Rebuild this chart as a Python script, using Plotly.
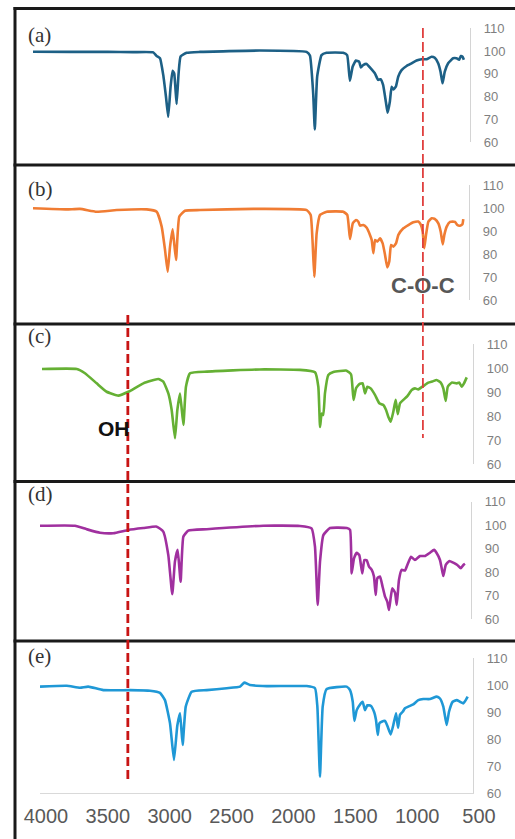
import plotly.graph_objects as go

# ---------------------------------------------------------------- spectra data
# wavenumber (cm-1) / transmittance (%) pairs for each sample
wn_a = [4000, 3700, 3400, 3200, 3037, 3010, 2983, 2957, 2935, 2917, 2898, 2882, 2869,
        2850, 2834, 2818, 2769, 2663, 2183, 1809, 1782, 1756, 1743, 1724, 1689, 1649,
        1516, 1484, 1462, 1440, 1414, 1388, 1374, 1356, 1328, 1302, 1262, 1236, 1216,
        1196, 1174, 1160, 1142, 1128, 1115, 1094, 1075, 1048, 1008, 968, 928, 888, 848,
        808, 782, 755, 736, 720, 702, 675, 635, 608, 587, 573, 560, 549]
t_a = [99.7, 99.6, 99.6, 99.5, 99.4, 97.8, 96.8, 89.5, 79.9, 71.1, 84.3, 91.3, 90.1,
       76.7, 90.1, 97.6, 99.2, 99.6, 100.2, 99.6, 98.0, 81.4, 65.5, 88.7, 98.2, 99.2,
       99.2, 98.2, 86.9, 93.1, 95.8, 95.3, 92.8, 93.8, 94.3, 92.8, 90.2, 87.3, 87.6,
       85.1, 77.7, 72.9, 77.7, 84.3, 83.1, 84.3, 88.7, 91.6, 93.4, 94.6, 95.8, 96.4, 96.4,
       97.5, 97.0, 94.6, 90.9, 85.8, 90.9, 94.6, 96.8, 96.8, 96.2, 97.8, 97.5, 96.2]

wn_b = [4000, 3729, 3623, 3489, 3328, 3087, 3007, 2967, 2940, 2919, 2900, 2879, 2852,
        2826, 2780, 2659, 2231, 1803, 1771, 1755, 1742, 1723, 1696, 1642, 1509, 1477,
        1455, 1433, 1407, 1388, 1375, 1348, 1321, 1295, 1281, 1268, 1254, 1236, 1214,
        1193, 1174, 1156, 1140, 1126, 1107, 1086, 1067, 1027, 987, 947, 907, 888, 872,
        859, 845, 826, 799, 773, 746, 727, 711, 698, 679, 652, 612, 594, 572, 553, 546]
t_b = [99.9, 99.4, 99.6, 98.4, 99.1, 99.4, 98.4, 91.9, 81.7, 72.3, 83.2, 90.7, 77.4,
       96.2, 98.8, 99.1, 99.6, 99.1, 97.0, 84.6, 70.1, 89.0, 97.0, 98.4, 98.4, 97.0,
       86.5, 93.3, 94.8, 94.0, 92.3, 92.6, 91.4, 88.3, 86.1, 80.3, 86.1, 85.4, 86.8,
       84.6, 79.6, 74.2, 76.7, 83.9, 83.2, 84.6, 88.3, 91.2, 92.6, 93.8, 94.1, 92.9, 89.7,
       82.5, 88.3, 94.1, 95.5, 95.2, 93.3, 89.7, 84.2, 88.3, 91.9, 94.0, 94.0, 92.6, 92.3,
       92.9, 95.2]

wn_c = [4000, 3718, 3651, 3556, 3475, 3380, 3299, 3177, 3056, 3015, 2974, 2947, 2920,
        2901, 2879, 2852, 2831, 2798, 2662, 2230, 1905, 1783, 1756, 1742, 1729, 1716,
        1702, 1675, 1634, 1526, 1490, 1470, 1450, 1423, 1396, 1377, 1358, 1331, 1296,
        1261, 1228, 1206, 1188, 1168, 1147, 1128, 1111, 1093, 1066, 1033, 998, 971, 944,
        903, 863, 830, 795, 762, 741, 722, 705, 673, 632, 611, 592, 573, 551]
t_c = [99.6, 99.6, 97.8, 93.6, 90.1, 88.5, 90.1, 93.6, 95.4, 94.3, 89.4, 82.5, 70.7,
       82.5, 89.4, 76.3, 92.2, 97.8, 98.5, 99.4, 99.2, 98.2, 92.2, 75.4, 81.0, 80.4,
       89.5, 97.1, 98.3, 98.9, 97.3, 86.7, 91.5, 93.3, 93.6, 89.4, 92.2, 91.5, 88.8,
       85.3, 84.6, 82.5, 79.7, 77.6, 81.8, 86.7, 80.8, 85.3, 86.7, 88.3, 90.8, 91.5, 91.1,
       92.5, 93.9, 94.4, 95.0, 93.9, 91.5, 86.3, 92.2, 93.9, 93.6, 93.9, 92.2, 93.6, 96.1]

wn_d = [4000, 3716, 3621, 3513, 3405, 3283, 3161, 3052, 2999, 2958, 2926, 2904, 2882,
        2858, 2836, 2796, 2646, 2187, 1889, 1795, 1767, 1745, 1726, 1699, 1645, 1509,
        1482, 1469, 1450, 1428, 1407, 1383, 1366, 1347, 1328, 1306, 1288, 1274, 1261,
        1239, 1217, 1198, 1180, 1166, 1152, 1139, 1117, 1103, 1085, 1063, 1036, 1017, 987,
        955, 914, 873, 833, 800, 778, 752, 738, 725, 705, 676, 644, 611, 583, 562, 549]
t_d = [99.7, 99.7, 98.2, 96.7, 96.5, 97.9, 98.7, 99.3, 97.2, 87.2, 70.6, 84.5, 89.4,
       75.9, 95.0, 97.6, 98.2, 99.7, 99.6, 98.6, 90.8, 66.0, 84.5, 95.7, 98.7, 98.7,
       97.9, 79.4, 85.8, 88.2, 87.2, 79.4, 85.1, 85.0, 82.3, 80.9, 78.1, 70.2, 77.3,
       78.1, 73.5, 69.5, 67.4, 63.8, 69.1, 73.1, 71.2, 66.0, 76.6, 80.9, 80.6, 83.0, 86.5,
       85.1, 86.8, 86.8, 88.2, 89.4, 88.0, 85.1, 81.6, 78.3, 83.0, 84.7, 84.0, 83.0, 81.6,
       83.0, 83.5]

wn_e = [4000, 3784, 3677, 3610, 3488, 3273, 3111, 3030, 2990, 2949, 2917, 2890, 2868,
        2847, 2822, 2774, 2653, 2491, 2383, 2349, 2303, 2168, 1844, 1777, 1758, 1737,
        1715, 1683, 1521, 1494, 1472, 1459, 1440, 1413, 1392, 1373, 1354, 1327, 1300,
        1284, 1270, 1257, 1238, 1211, 1190, 1165, 1144, 1122, 1106, 1090, 1068, 1050,
        1023, 983, 942, 902, 848, 793, 767, 740, 713, 694, 664, 632, 605, 578, 559, 543]
t_e = [99.4, 99.7, 99.0, 99.4, 98.1, 98.1, 97.9, 97.1, 94.4, 85.8, 72.2, 85.0, 89.5,
       77.8, 92.0, 97.5, 98.1, 98.8, 99.4, 100.9, 100.0, 99.6, 99.6, 98.8, 92.0, 66.0,
       92.0, 98.5, 99.4, 98.1, 93.8, 86.7, 90.7, 92.8, 93.8, 90.7, 92.5, 92.3, 90.1,
       87.0, 81.5, 85.8, 86.4, 86.7, 84.6, 81.7, 85.2, 89.5, 84.2, 89.0, 90.1, 91.4,
       92.0, 92.8, 94.4, 94.8, 94.8, 95.7, 95.0, 92.0, 85.2, 90.1, 93.8, 94.4, 93.8,
       93.2, 94.4, 95.7]

panel_labels = ["(a)", "(b)", "(c)", "(d)", "(e)"]
y_ticks = [60, 70, 80, 90, 100, 110]
x_ticks = [4000, 3500, 3000, 2500, 2000, 1500, 1000, 500]
coc_wavenumber = 870      # C-O-C band marker
oh_wavenumber = 3290      # O-H band marker

# ---------------------------------------------------------------- styling / layout
W, H = 515, 839
colors = ["#1d6086", "#f07c33", "#65b034", "#a0309f", "#1f98d6"]
panel_x = [(33, 470), (33, 469), (42, 473), (40, 471), (40, 473)]        # px, left/right
panel_y = [(28.25, 142), (185, 300), (344, 464), (501.5, 619), (658, 793)]  # px, 110 / 60
label_y = [35, 189, 336, 494, 656]
separators = [165, 324, 481.5, 641]


def fx(p):
    return p / W


def fy(p):
    return 1 - p / H


series = [(wn_a, t_a), (wn_b, t_b), (wn_c, t_c), (wn_d, t_d), (wn_e, t_e)]

fig = go.Figure()
layout = {}
for i, (wn, t) in enumerate(series):
    n = i + 1
    sx = "" if n == 1 else str(n)
    fig.add_trace(go.Scatter(
        x=wn, y=t, mode="lines",
        line=dict(color=colors[i], width=2.6, shape="spline", smoothing=0.4),
        xaxis="x" + sx, yaxis="y" + sx, showlegend=False, hoverinfo="skip",
    ))
    x0, x1 = panel_x[i]
    ytop, ybot = panel_y[i]
    xa = dict(domain=[fx(x0), fx(x1)], range=[4000, 500], anchor="y" + sx,
              showgrid=False, zeroline=False, automargin=False)
    if n == 5:
        xa.update(showline=True, linecolor="#d9d9d9", linewidth=1.2, ticks="",
                  tickvals=x_ticks, ticktext=[str(v) for v in x_ticks],
                  tickfont=dict(family="Liberation Sans Narrow, Liberation Sans, Arial",
                                size=20, color="#595959"),
                  ticklabelshift=-6, ticklabelstandoff=5)
    else:
        xa.update(visible=False)
    ya = dict(domain=[fy(ybot), fy(ytop)], range=[60, 110], anchor="x" + sx,
              side="right", showline=True, linecolor="#d4d4d4", linewidth=1.2,
              showgrid=False, zeroline=False, ticks="", tickvals=y_ticks,
              tickfont=dict(family="Liberation Sans Narrow, Liberation Sans, Arial",
                            size=13, color="#7f7f7f"),
              ticklabelstandoff=10, automargin=False)
    layout["xaxis" + sx] = xa
    layout["yaxis" + sx] = ya

shapes = []
# frame around the stacked panels
shapes.append(dict(type="line", xref="paper", yref="paper", x0=fx(13.5), x1=1,
                   y0=fy(8.5), y1=fy(8.5), line=dict(color="#1a1a1a", width=3)))
shapes.append(dict(type="line", xref="paper", yref="paper", x0=fx(15), x1=fx(15),
                   y0=fy(7), y1=0, line=dict(color="#1a1a1a", width=3)))
for s in separators:
    shapes.append(dict(type="line", xref="paper", yref="paper", x0=fx(13.5), x1=1,
                       y0=fy(s), y1=fy(s), line=dict(color="#1a1a1a", width=3)))
# band markers
shapes.append(dict(type="line", xref="x2", yref="paper", x0=coc_wavenumber,
                   x1=coc_wavenumber, y0=fy(28), y1=fy(438),
                   line=dict(color="#e0403f", width=1.8, dash="10px,4px")))
shapes.append(dict(type="line", xref="x5", yref="paper", x0=oh_wavenumber,
                   x1=oh_wavenumber, y0=fy(315), y1=fy(782),
                   line=dict(color="#c81414", width=2.8, dash="9px,4px")))

annotations = []
for lab, ly in zip(panel_labels, label_y):
    annotations.append(dict(text=lab, xref="paper", yref="paper", x=fx(26), y=fy(ly),
                            xanchor="left", yanchor="middle", showarrow=False,
                            font=dict(family="Liberation Serif, Times New Roman, serif",
                                      size=21, color="#333333")))
annotations.append(dict(text="<b>C-O-C</b>", xref="x2", yref="y2", x=coc_wavenumber,
                        y=66.5, showarrow=False, xanchor="center", yanchor="middle",
                        font=dict(family="Liberation Sans, Arial", size=22,
                                  color="#575757")))
annotations.append(dict(text="<b>OH</b>", xref="x3", yref="y3", x=3415, y=74.6,
                        showarrow=False, xanchor="center", yanchor="middle",
                        font=dict(family="Liberation Sans, Arial", size=21,
                                  color="#111111")))

fig.update_layout(
    width=W, height=H, margin=dict(l=0, r=0, t=0, b=0),
    paper_bgcolor="white", plot_bgcolor="rgba(0,0,0,0)",
    template="none", showlegend=False,
    shapes=shapes, annotations=annotations, **layout,
)

fig.write_html("out.html")
